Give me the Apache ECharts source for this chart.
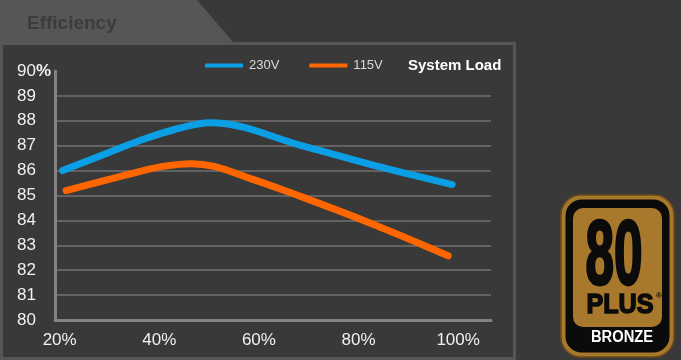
<!DOCTYPE html>
<html><head><meta charset="utf-8">
<script src="https://cdn.jsdelivr.net/npm/echarts@6/dist/echarts.min.js"></script>
<style>html,body{margin:0;padding:0;background:#393939;}#c{width:681px;height:360px;}</style>
</head><body><div id="c"></div>
<script>
// ---- data ----
const seriesNames = ['230V', '115V'];
const loadTicks = [20, 40, 60, 80, 100];           // x tick labels (%)
const effTicks = [80, 81, 82, 83, 84, 85, 86, 87, 88, 89, 90];
// [system load %, efficiency %]
const eff230 = [[20.6, 86.0], [29.5, 86.7], [36, 87.2], [42.9, 87.64], [50.3, 87.92], [69.5, 86.95], [82.9, 86.22], [98.8, 85.44]];
const eff115 = [[21.3, 85.2], [28, 85.55], [35.8, 85.95], [41, 86.18], [46.4, 86.28], [51, 86.17], [58, 85.7], [66.1, 85.13], [82.9, 83.85], [98, 82.58]];
const titleText = 'Efficiency';
const xAxisName = 'System Load';

const FONT = '"Liberation Sans", Arial, sans-serif';
const chart = echarts.init(document.getElementById('c'), null, {renderer: 'canvas'});
chart.setOption({
  backgroundColor: '#393939',
  animation: false,
  title: {text: titleText, left: 27, top: 14, padding: 0,
    textStyle: {fontFamily: FONT, fontSize: 19, fontWeight: 'bold', color: '#3c3c3c'}},
  legend: {
    data: seriesNames, left: 205, top: 59, padding: 0, itemGap: 30,
    icon: 'rect', itemWidth: 38, itemHeight: 4,
    textStyle: {fontFamily: FONT, fontSize: 13, color: '#dadada', padding: [0, 0, 0, 1]}
  },
  grid: {left: 55, right: 190, top: 71, bottom: 40, containLabel: false},
  xAxis: {
    type: 'value', min: 19.06, max: 106.6,
    axisLine: {show: true, onZero: false, lineStyle: {color: '#828282', width: 3}},
    axisTick: {show: false},
    splitLine: {show: false},
    axisLabel: {customValues: loadTicks, formatter: v => v + '%', margin: 12,
      fontFamily: FONT, fontSize: 17, color: '#f0f0f0'}
  },
  yAxis: {
    type: 'value', min: effTicks[0], max: effTicks[effTicks.length - 1], interval: 1,
    axisLine: {show: true, lineStyle: {color: '#828282', width: 3}},
    axisTick: {show: false},
    splitLine: {show: true, showMaxLine: false, showMinLine: false, lineStyle: {color: '#707070', width: 1.5}},
    axisLabel: {
      align: 'left', margin: 38, fontFamily: FONT, fontSize: 17, color: '#f0f0f0',
      formatter: v => v === 90 ? '90{p|%}' : String(v),
      rich: {p: {fontFamily: FONT, fontSize: 17, fontWeight: 'bold', color: '#f0f0f0'}}
    }
  },
  series: [
    {name: seriesNames[0], type: 'line', data: eff230, smooth: 0.35, showSymbol: false, color: '#0a9fe5',
      lineStyle: {width: 7, cap: 'round', join: 'round', color: '#0a9fe5'}, z: 3},
    {name: seriesNames[1], type: 'line', data: eff115, smooth: 0.4, showSymbol: false, color: '#ff6600',
      lineStyle: {width: 7, cap: 'round', join: 'round', color: '#ff6600'}, z: 3}
  ],
  graphic: [
    // header tab
    {type: 'polygon', z: -10, shape: {points: [[0, 0], [197, 0], [233, 42], [0, 42]]}, style: {fill: '#565656'}, silent: true},
    // panel border
    {type: 'rect', z: -10, shape: {x: 1.5, y: 43.5, width: 513, height: 315}, style: {fill: 'none', stroke: '#565656', lineWidth: 3}, silent: true},
    // x-axis caption
    {type: 'text', left: 408, top: 58, style: {text: xAxisName, fill: '#ffffff', font: 'bold 15px ' + FONT}},
    // 80 PLUS BRONZE badge
    {type: 'rect', shape: {x: 561, y: 195, width: 113, height: 162, r: 20}, style: {fill: '#a8792c', stroke: '#6e4c18', lineWidth: 1.5}, silent: true},
    {type: 'rect', shape: {x: 565.5, y: 199.5, width: 104, height: 153, r: 16}, style: {fill: '#0b0b0b'}, silent: true},
    {type: 'rect', shape: {x: 573, y: 208, width: 89, height: 119, r: 10}, style: {fill: '#a8792c'}, silent: true},
    {type: 'text', x: 614, y: 259, scaleX: 0.57, style: {text: '80', x: 0, y: 0, textAlign: 'center', textVerticalAlign: 'middle', fill: '#0b0b0b', stroke: '#0b0b0b', lineWidth: 3, font: 'bold 90px ' + FONT}, silent: true},
    {type: 'text', x: 620, y: 305.5, scaleX: 0.9, style: {text: 'PLUS', x: 0, y: 0, textAlign: 'center', textVerticalAlign: 'middle', fill: '#0b0b0b', stroke: '#0b0b0b', lineWidth: 1.5, font: '900 28px ' + FONT}, silent: true},
    {type: 'text', x: 659, y: 296, style: {text: '®', x: 0, y: 0, textAlign: 'center', textVerticalAlign: 'middle', fill: '#0b0b0b', font: 'bold 8px ' + FONT}, silent: true},
    {type: 'text', x: 622, y: 338, scaleX: 0.92, style: {text: 'BRONZE', x: 0, y: 0, textAlign: 'center', textVerticalAlign: 'middle', fill: '#ffffff', font: 'bold 16px ' + FONT}, silent: true}
  ]
});
</script>
</body></html>
